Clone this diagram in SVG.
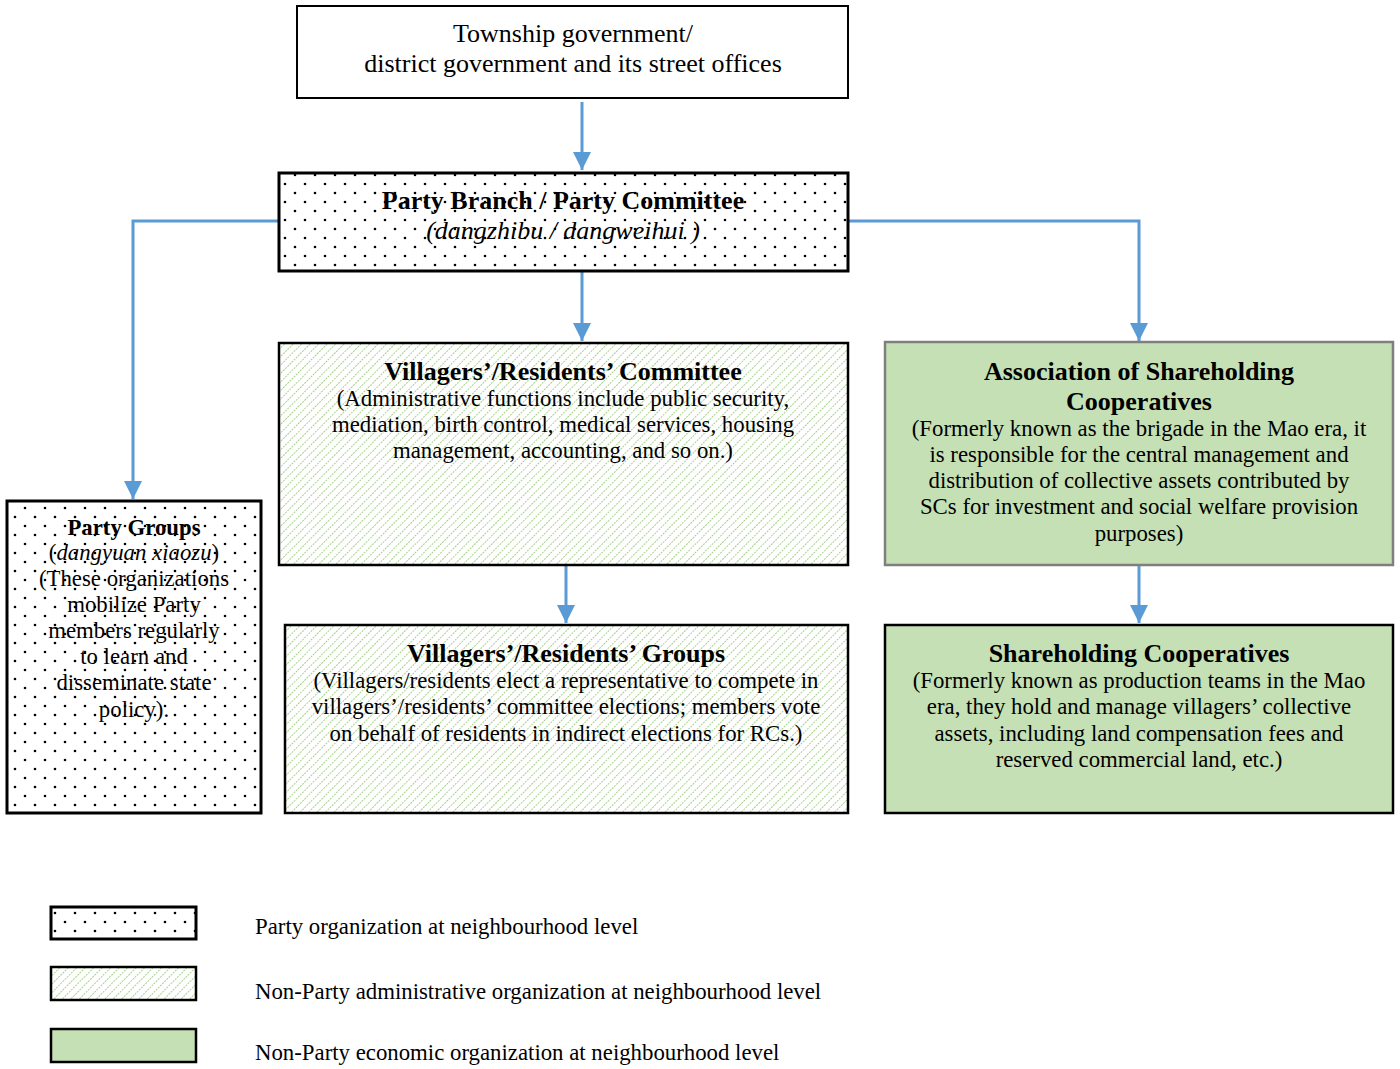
<svg xmlns="http://www.w3.org/2000/svg" width="1400" height="1069" viewBox="0 0 1400 1069">
<style>
text{font-family:"Liberation Serif","Times New Roman",serif;fill:#000;text-anchor:middle}
.t{font-size:26px}
.h{font-size:26px;font-weight:bold}
.b{font-size:22.8px}
.i{font-style:italic}
.lg{font-size:22.8px;text-anchor:start}
.conn{fill:none;stroke:#5b9bd5;stroke-width:3}
.dot{fill:url(#dots);stroke:#000;stroke-width:3}
.hat{fill:url(#hatch);stroke:#000;stroke-width:2.5}
.grn{fill:#c5e0b4;stroke:#000;stroke-width:2.5}
</style>
<defs>
<pattern id="dots" patternUnits="userSpaceOnUse" width="20" height="18">
<rect width="20" height="18" fill="#fff"/>
<circle cx="5" cy="4" r="1.3" fill="#000"/>
<circle cx="15" cy="13" r="1.3" fill="#000"/>
</pattern>
<pattern id="hatch" patternUnits="userSpaceOnUse" width="6" height="6" patternTransform="rotate(45)">
<rect width="6" height="6" fill="#fff"/>
<line x1="0" y1="0" x2="0" y2="6" stroke="#a9d18e" stroke-width="2" stroke-dasharray="2 1"/>
</pattern>
<marker id="ah" markerWidth="20" markerHeight="18" refX="18" refY="9" orient="auto" markerUnits="userSpaceOnUse">
<path d="M0,0 L18,9 L0,18 Z" fill="#5b9bd5"/>
</marker>
</defs>

<g id="connectors">
<path class="conn" d="M582,102 V170" marker-end="url(#ah)"/>
<path class="conn" d="M278,221 H133 V499" marker-end="url(#ah)"/>
<path class="conn" d="M848,221 H1139 V341" marker-end="url(#ah)"/>
<path class="conn" d="M582,272 V341" marker-end="url(#ah)"/>
<path class="conn" d="M566,566 V623" marker-end="url(#ah)"/>
<path class="conn" d="M1139,566 V623" marker-end="url(#ah)"/>
</g>

<g id="township">
<rect x="297" y="6" width="551" height="92" fill="#fff" stroke="#000" stroke-width="2"/>
<text class="t" x="573" y="42">Township government/</text>
<text class="t" x="573" y="72">district government and its street offices</text>
</g>

<g id="party-branch">
<rect class="dot" x="279" y="173" width="569" height="98"/>
<text class="h" x="563" y="209">Party Branch / Party Committee</text>
<text class="t i" x="563" y="239">(dangzhibu / dangweihui )</text>
</g>

<g id="villagers-committee">
<rect class="hat" x="279" y="343" width="569" height="222"/>
<text class="h" x="563" y="380">Villagers’/Residents’ Committee</text>
<text class="b" x="563" y="406">(Administrative functions include public security,</text>
<text class="b" x="563" y="432">mediation, birth control, medical services, housing</text>
<text class="b" x="563" y="458">management, accounting, and so on.)</text>
</g>

<g id="association">
<rect x="885" y="342" width="508" height="223" fill="#c5e0b4" stroke="#7f7f7f" stroke-width="2.5"/>
<text class="h" x="1139" y="380">Association of Shareholding</text>
<text class="h" x="1139" y="410">Cooperatives</text>
<text class="b" x="1139" y="436">(Formerly known as the brigade in the Mao era, it</text>
<text class="b" x="1139" y="462">is responsible for the central management and</text>
<text class="b" x="1139" y="488">distribution of collective assets contributed by</text>
<text class="b" x="1139" y="514">SCs for investment and social welfare provision</text>
<text class="b" x="1139" y="541">purposes)</text>
</g>

<g id="party-groups">
<rect class="dot" x="7" y="501" width="254" height="312" stroke-width="2.5"/>
<text class="b" x="134" y="535" font-weight="bold">Party Groups</text>
<text class="b" x="134" y="560">(<tspan font-style="italic">dangyuan xiaozu</tspan>)</text>
<text class="b" x="134" y="586">(These organizations</text>
<text class="b" x="134" y="612">mobilize Party</text>
<text class="b" x="134" y="638">members  regularly</text>
<text class="b" x="134" y="664">to learn and</text>
<text class="b" x="134" y="690">disseminate state</text>
<text class="b" x="134" y="717">policy).</text>
</g>

<g id="villagers-groups">
<rect class="hat" x="285" y="625" width="563" height="188"/>
<text class="h" x="566" y="662">Villagers’/Residents’ Groups</text>
<text class="b" x="566" y="688">(Villagers/residents elect a representative to compete in</text>
<text class="b" x="566" y="714">villagers’/residents’ committee elections; members vote</text>
<text class="b" x="566" y="741">on behalf of residents in indirect elections for RCs.)</text>
</g>

<g id="shareholding">
<rect class="grn" x="885" y="625" width="508" height="188"/>
<text class="h" x="1139" y="662">Shareholding Cooperatives</text>
<text class="b" x="1139" y="688">(Formerly known as production teams in the Mao</text>
<text class="b" x="1139" y="714">era, they hold and manage villagers’ collective</text>
<text class="b" x="1139" y="741">assets, including land compensation fees and</text>
<text class="b" x="1139" y="767">reserved commercial land, etc.)</text>
</g>

<g id="legend">
<rect class="dot" x="51" y="907" width="145" height="32" stroke-width="2.5"/>
<rect class="hat" x="51" y="967" width="145" height="33"/>
<rect class="grn" x="51" y="1029" width="145" height="33"/>
<text class="lg" x="255" y="934">Party organization at neighbourhood level</text>
<text class="lg" x="255" y="999">Non-Party administrative organization at neighbourhood level</text>
<text class="lg" x="255" y="1060">Non-Party economic organization at neighbourhood level</text>
</g>
</svg>
